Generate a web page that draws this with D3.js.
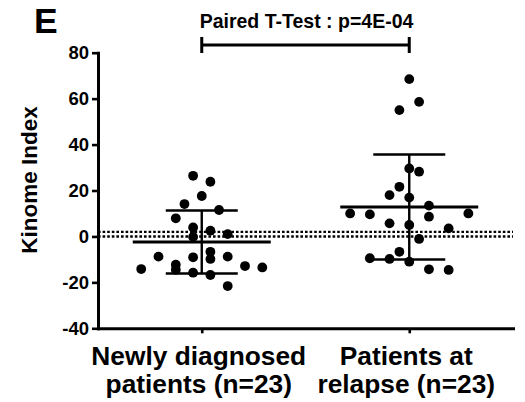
<!DOCTYPE html>
<html>
<head>
<meta charset="utf-8">
<script src="https://cdn.jsdelivr.net/npm/d3@7"></script>
<style>
  html, body { margin: 0; padding: 0; background: #fff; }
  svg { display: block; font-family: "Liberation Sans", Arial, Helvetica, sans-serif; font-weight: bold; }
</style>
</head>
<body>
<svg id="chart" width="525" height="402"></svg>
<script>
// Groups and their two-line axis labels
const categories = ["Newly diagnosed patients (n=23)", "Patients at relapse (n=23)"];
const categoryLines = [["Newly diagnosed", "patients (n=23)"], ["Patients at", "relapse (n=23)"]];

// Kinome index per patient, with the scatter column each point sits in
const newlyValues = [26.4, 23.8, 17.6, 14.1, 11.5, 7.9, 3.9, 2.5, 1.0, -0.2,
  -8.8, -9.1, -6.7, -9.8, -8.8, -14.2, -12.3, -14.5, -15.8, -16.8, -12.9, -13.5, -21.6];
const newlyColumns = [-0.5, 0.5, 0, -1, 1, -1.5, -0.5, 0.5, 1.5, -0.5,
  -2.5, -0.5, 0.5, 0.5, 1.5, -3.5, -1.5, -1.5, -0.5, 0.5, 2.5, 3.5, 1.5];

const relapseValues = [68.5, 58.6, 55.0, 29.6, 28.2, 21.6, 18.0, 16.9, 13.4, 10.0,
  9.6, 8.6, 10.0, 5.7, 5.0, 3.5, -1.1, -6.7, -9.5, -9.8, -11.0, -14.3, -14.6];
const relapseColumns = [0, 0.5, -0.5, 0, 0.5, -0.5, -1, 0, 1, -3,
  -2, 1, 3, -1, 0, 2, 0.5, -0.5, -2, -1, 0, 1, 2];

// Y axis ticks and dotted reference lines
const yTicks = [-40, -20, 0, 20, 40, 60, 80];
const referenceLines = [0, 2];

const testLabel = "Paired T-Test : p=4E-04";
const panelLetter = "E";
const yTitle = "Kinome Index";

const groups = [
  { name: categories[0], values: newlyValues, cols: newlyColumns, slot: 17.3 },
  { name: categories[1], values: relapseValues, cols: relapseColumns, slot: 19.7 }
];

const svg = d3.select("#chart");
const plotLeft = 98, plotRight = 513, plotTop = 52.7, plotBottom = 328.3;

const x = d3.scalePoint().domain(categories).range([plotLeft, plotRight]).padding(0.5);
const y = d3.scaleLinear().domain([-40, 80]).range([plotBottom, plotTop]);

// Panel letter
svg.append("text").attr("x", 34).attr("y", 32.5)
  .attr("font-size", 35.5).text(panelLetter);

// Dotted reference lines
svg.append("g").selectAll("line").data(referenceLines).join("line")
  .attr("x1", plotLeft).attr("x2", plotRight)
  .attr("y1", d => y(d)).attr("y2", d => y(d))
  .attr("stroke", "#000").attr("stroke-width", 2.4)
  .attr("stroke-dasharray", "2.6,2");

// Axes
const yAxis = svg.append("g").attr("transform", `translate(${plotLeft},0)`)
  .call(d3.axisLeft(y).tickValues(yTicks).tickSize(6).tickSizeOuter(0).tickPadding(3)
    .tickFormat(d => String(d)));
const xAxis = svg.append("g").attr("transform", `translate(0,${plotBottom})`)
  .call(d3.axisBottom(x).tickSize(5).tickSizeOuter(0).tickFormat(""));

[yAxis, xAxis].forEach(g => {
  g.select(".domain").attr("stroke-width", 3).attr("stroke-linecap", "square");
  g.selectAll(".tick line").attr("stroke-width", 2.6);
});
yAxis.selectAll(".tick text").attr("font-size", 18.5).attr("font-family", null)
  .attr("fill", "#000");

// Two-line category labels
const labels = svg.append("g").selectAll("text").data(categories).join("text")
  .attr("text-anchor", "middle")
  .attr("font-size", 26.3)
  .attr("transform", d => `translate(${x(d) - 3},365)`);
labels.selectAll("tspan").data((d, i) => categoryLines[i]).join("tspan")
  .attr("x", 0).attr("dy", (d, j) => j === 0 ? 0 : 27.5).text(d => d);

// Y title
svg.append("text")
  .attr("transform", "translate(37,180) rotate(-90)")
  .attr("text-anchor", "middle").attr("font-size", 22.5).text(yTitle);

// Points, mean and SD bars for each group
groups.forEach(g => {
  const cx = x(g.name);
  const mean = d3.mean(g.values);
  const sd = d3.deviation(g.values);
  const gg = svg.append("g");

  gg.selectAll("circle").data(g.values).join("circle")
    .attr("cx", (d, i) => cx + g.cols[i] * g.slot)
    .attr("cy", d => y(d))
    .attr("r", 4.9)
    .attr("fill", "#000");

  gg.append("line").attr("x1", cx).attr("x2", cx)
    .attr("y1", y(mean + sd)).attr("y2", y(mean - sd))
    .attr("stroke", "#000").attr("stroke-width", 2.4);
  [mean + sd, mean - sd].forEach(v => {
    gg.append("line").attr("x1", cx - 36).attr("x2", cx + 36)
      .attr("y1", y(v)).attr("y2", y(v))
      .attr("stroke", "#000").attr("stroke-width", 2.4);
  });
  gg.append("line").attr("x1", cx - 69).attr("x2", cx + 69)
    .attr("y1", y(mean)).attr("y2", y(mean))
    .attr("stroke", "#000").attr("stroke-width", 3);
});

// Comparison bracket and test label
const bx1 = x(categories[0]), bx2 = x(categories[1]), by = 45;
const bracket = svg.append("g").attr("stroke", "#000").attr("stroke-width", 3);
bracket.append("line").attr("x1", bx1).attr("x2", bx2).attr("y1", by).attr("y2", by);
[bx1, bx2].forEach(bx => bracket.append("line")
  .attr("x1", bx).attr("x2", bx).attr("y1", by - 8).attr("y2", by + 8));
svg.append("text").attr("x", (bx1 + bx2) / 2 + 1).attr("y", 28)
  .attr("text-anchor", "middle").attr("font-size", 19.5).text(testLabel);
</script>
</body>
</html>
